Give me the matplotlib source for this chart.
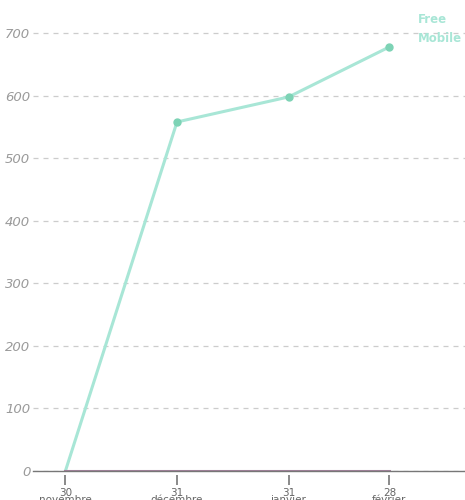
import matplotlib
matplotlib.use("Agg")
import matplotlib.pyplot as plt
import matplotlib.transforms as mtransforms
import datetime as dt

dates = [dt.date(2020, 11, 30), dt.date(2020, 12, 31), dt.date(2021, 1, 31), dt.date(2021, 2, 28)]
free_mobile = [0, 558, 598, 678]
other = [0, 0, 0, 0]
tick_labels = ["30\nnovembre", "31\ndécembre", "31\njanvier", "28\nfévrier"]
yticks = [0, 100, 200, 300, 400, 500, 600, 700]

teal = "#a8e6d6"
teal_dot = "#7dd3b5"
purple = "#9c7f96"

fig = plt.figure(figsize=(4.65, 5), dpi=100)
ax = fig.add_axes([33 / 465, 29 / 500, 432 / 465, 471 / 500])

ax.plot(dates, free_mobile, color=teal, linewidth=2.2, zorder=3)
ax.plot(dates[1:], free_mobile[1:], "o", color=teal_dot, markersize=5, zorder=4)
ax.plot(dates, other, color=purple, linewidth=2.2, zorder=4)

ax.set_xlim(dt.date(2020, 11, 21), dt.date(2021, 3, 21))
ax.set_ylim(0, 753)

ax.set_yticks(yticks)
ax.set_yticklabels([str(v) for v in yticks], fontstyle="italic", color="#9a9a9a", fontsize=9.5)
ax.tick_params(axis="y", length=0, pad=2)
ax.grid(axis="y", linestyle=(0, (4, 4)), color="#cccccc", linewidth=0.9)
ax.set_axisbelow(True)

# x ticks drawn detached from the axis line
ax.set_xticks(dates)
ax.set_xticklabels(tick_labels, color="#666666", fontsize=7.5, linespacing=0.7)
ax.tick_params(axis="x", length=0, pad=12)
tick_tr = mtransforms.offset_copy(ax.transData, fig=fig, y=-9, units="dots")
ax.plot(dates, other, linestyle="none", marker="|", markersize=7, markeredgewidth=1.2,
        color="#777777", transform=tick_tr, clip_on=False, zorder=5)

for s in ["top", "right", "left"]:
    ax.spines[s].set_visible(False)
ax.spines["bottom"].set_color("#777777")
ax.spines["bottom"].set_linewidth(1)

fig.text(418 / 465, 1 - 29 / 500, "Free\nMobile", color=teal, fontweight="bold",
         fontsize=8.5, va="center", ha="left", linespacing=1.6)

fig.savefig("out.png", dpi=100)
